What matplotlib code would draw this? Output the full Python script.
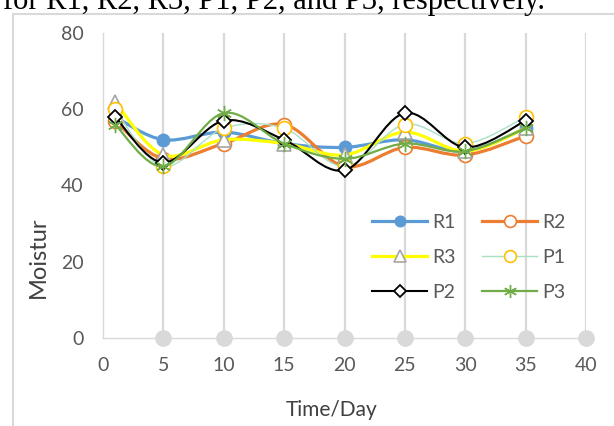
import numpy as np
import matplotlib
matplotlib.use('Agg')
from matplotlib import pyplot as plt
from matplotlib.path import Path
from matplotlib.patches import PathPatch, Rectangle
from matplotlib.lines import Line2D

plt.rcParams['font.family'] = ['Lato', 'DejaVu Sans']

# data
days = [1, 5, 10, 15, 20, 25, 30, 35]
r1 = [58, 52, 54, 51, 50, 52, 49, 55]
r2 = [57, 47, 51, 56, 45, 50, 48, 53]
r3 = [62, 48, 52, 51, 48, 54, 49, 55]
p1 = [60, 45, 55, 55, 45, 56, 51, 58]
p2 = [58, 46, 57, 52, 44, 59, 50, 57]
p3 = [56, 45, 59, 51, 47, 51, 49, 55]
names = ['R1', 'R2', 'R3', 'P1', 'P2', 'P3']
values = [r1, r2, r3, p1, p2, p3]

# helper series (gray drop lines with dots on the x axis)
guide_days = [5, 10, 15, 20, 25, 30, 35, 40]
guide_base = [0, 0, 0, 0, 0, 0, 0, 0]
guide_top = [80, 80, 80, 80, 80, 80, 80, 80]

x_ticks = [0, 5, 10, 15, 20, 25, 30, 35, 40]
y_ticks = [0, 20, 40, 60, 80]

# line / marker styles per series
styles = {
    'R1': dict(color='#5B9BD5', lw=2.3, marker='o', ms=9, mfc='#5B9BD5', mec='#5B9BD5', mew=1.0),
    'R2': dict(color='#ED7D31', lw=2.3, marker='o', ms=10, mfc='white', mec='#ED7D31', mew=1.2),
    'R3': dict(color='#FFFF00', lw=2.3, marker='^', ms=10, mfc='white', mec='#A5A5A5', mew=1.2),
    'P1': dict(color='#A8E0C4', lw=1.0, marker='o', ms=10, mfc='white', mec='#FFC000', mew=1.2),
    'P2': dict(color='black', lw=1.5, marker='D', ms=7, mfc='white', mec='black', mew=1.3),
    'P3': dict(color='#70AD47', lw=1.6, marker=(6, 2, 0), ms=11, mfc='#70AD47', mec='#70AD47', mew=1.0),
}


def smooth_path(xs, ys):
    # excel-like smoothed line: cubic bezier segments through the points
    pts = np.column_stack([xs, ys]).astype(float)
    n = len(pts)
    verts = [pts[0]]
    codes = [Path.MOVETO]
    for i in range(n - 1):
        a = pts[max(i - 1, 0)]
        b = pts[i]
        c = pts[i + 1]
        d = pts[min(i + 2, n - 1)]
        verts += [b + (c - a) / 6.0, c - (d - b) / 6.0, c]
        codes += [Path.CURVE4] * 3
    return Path(verts, codes)


W, H = 614, 426
fig = plt.figure(figsize=(W / 100, H / 100), dpi=100)

# chart border (runs past the right and bottom edges)
fig.patches.append(Rectangle((13 / W, -0.1), 1.2, 1.1 - 14 / H, transform=fig.transFigure,
                             fill=False, edgecolor='#D9D9D9', lw=1.5))

# caption text, cut at the top like in the screenshot
fig.text(3 / W, 1 - 9 / H, 'for R1, R2, R3, P1, P2, and P3, respectively.',
         family='Liberation Serif', fontsize=22, color='black', ha='left', va='baseline')

ax = fig.add_axes([103 / W, (H - 338) / H, (586 - 103) / W, (338 - 33) / H])
ax.set_xlim(0, 40)
ax.set_ylim(0, 80)

ax.vlines(guide_days, guide_base, guide_top, colors='#D9D9D9', lw=1.6, zorder=1)
ax.plot(guide_days, guide_base, linestyle='none', marker='o', ms=11, color='#D9D9D9',
        clip_on=False, zorder=2)

handles = {}
for k, (name, vals) in enumerate(zip(names, values)):
    st = styles[name]
    ax.add_patch(PathPatch(smooth_path(days, vals), fill=False, edgecolor=st['color'],
                           lw=st['lw'], zorder=3 + k))
    ax.plot(days, vals, linestyle='none', marker=st['marker'], ms=st['ms'], mfc=st['mfc'],
            mec=st['mec'], mew=st['mew'], zorder=3 + k, clip_on=False)
    handles[name] = Line2D([], [], color=st['color'], lw=st['lw'], marker=st['marker'],
                           ms=st['ms'] * 0.85, mfc=st['mfc'], mec=st['mec'], mew=st['mew'])

for s in ['top', 'right']:
    ax.spines[s].set_visible(False)
for s in ['left', 'bottom']:
    ax.spines[s].set_color('#D9D9D9')
    ax.spines[s].set_linewidth(1.0)

ax.set_xticks(x_ticks)
ax.set_yticks(y_ticks)
ax.tick_params(length=0, labelsize=14, labelcolor='#595959')
ax.tick_params(axis='x', pad=14)
ax.tick_params(axis='y', pad=14)

fig.text(38 / W, 1 - 257 / H, 'Moistur', rotation=90, ha='center', va='center',
         fontsize=17, color='#404040')
fig.text(332 / W, 1 - 410 / H, 'Time/Day', ha='center', va='center',
         fontsize=15, color='#404040')

# legend fills row by row: R1 R2 / R3 P1 / P2 P3
leg_order = ['R1', 'R3', 'P2', 'R2', 'P1', 'P3']
leg = ax.legend([handles[n] for n in leg_order], leg_order, ncol=2, frameon=False,
                loc='upper left', bbox_to_anchor=(372 / W, 1 - 214 / H),
                bbox_transform=fig.transFigure, borderaxespad=0, borderpad=0,
                handlelength=2.85, handletextpad=0.25, columnspacing=1.35,
                labelspacing=0.92, fontsize=14, numpoints=1)
for t in leg.get_texts():
    t.set_color('#595959')
leg.set_zorder(20)

fig.savefig('out.png', dpi=100)
